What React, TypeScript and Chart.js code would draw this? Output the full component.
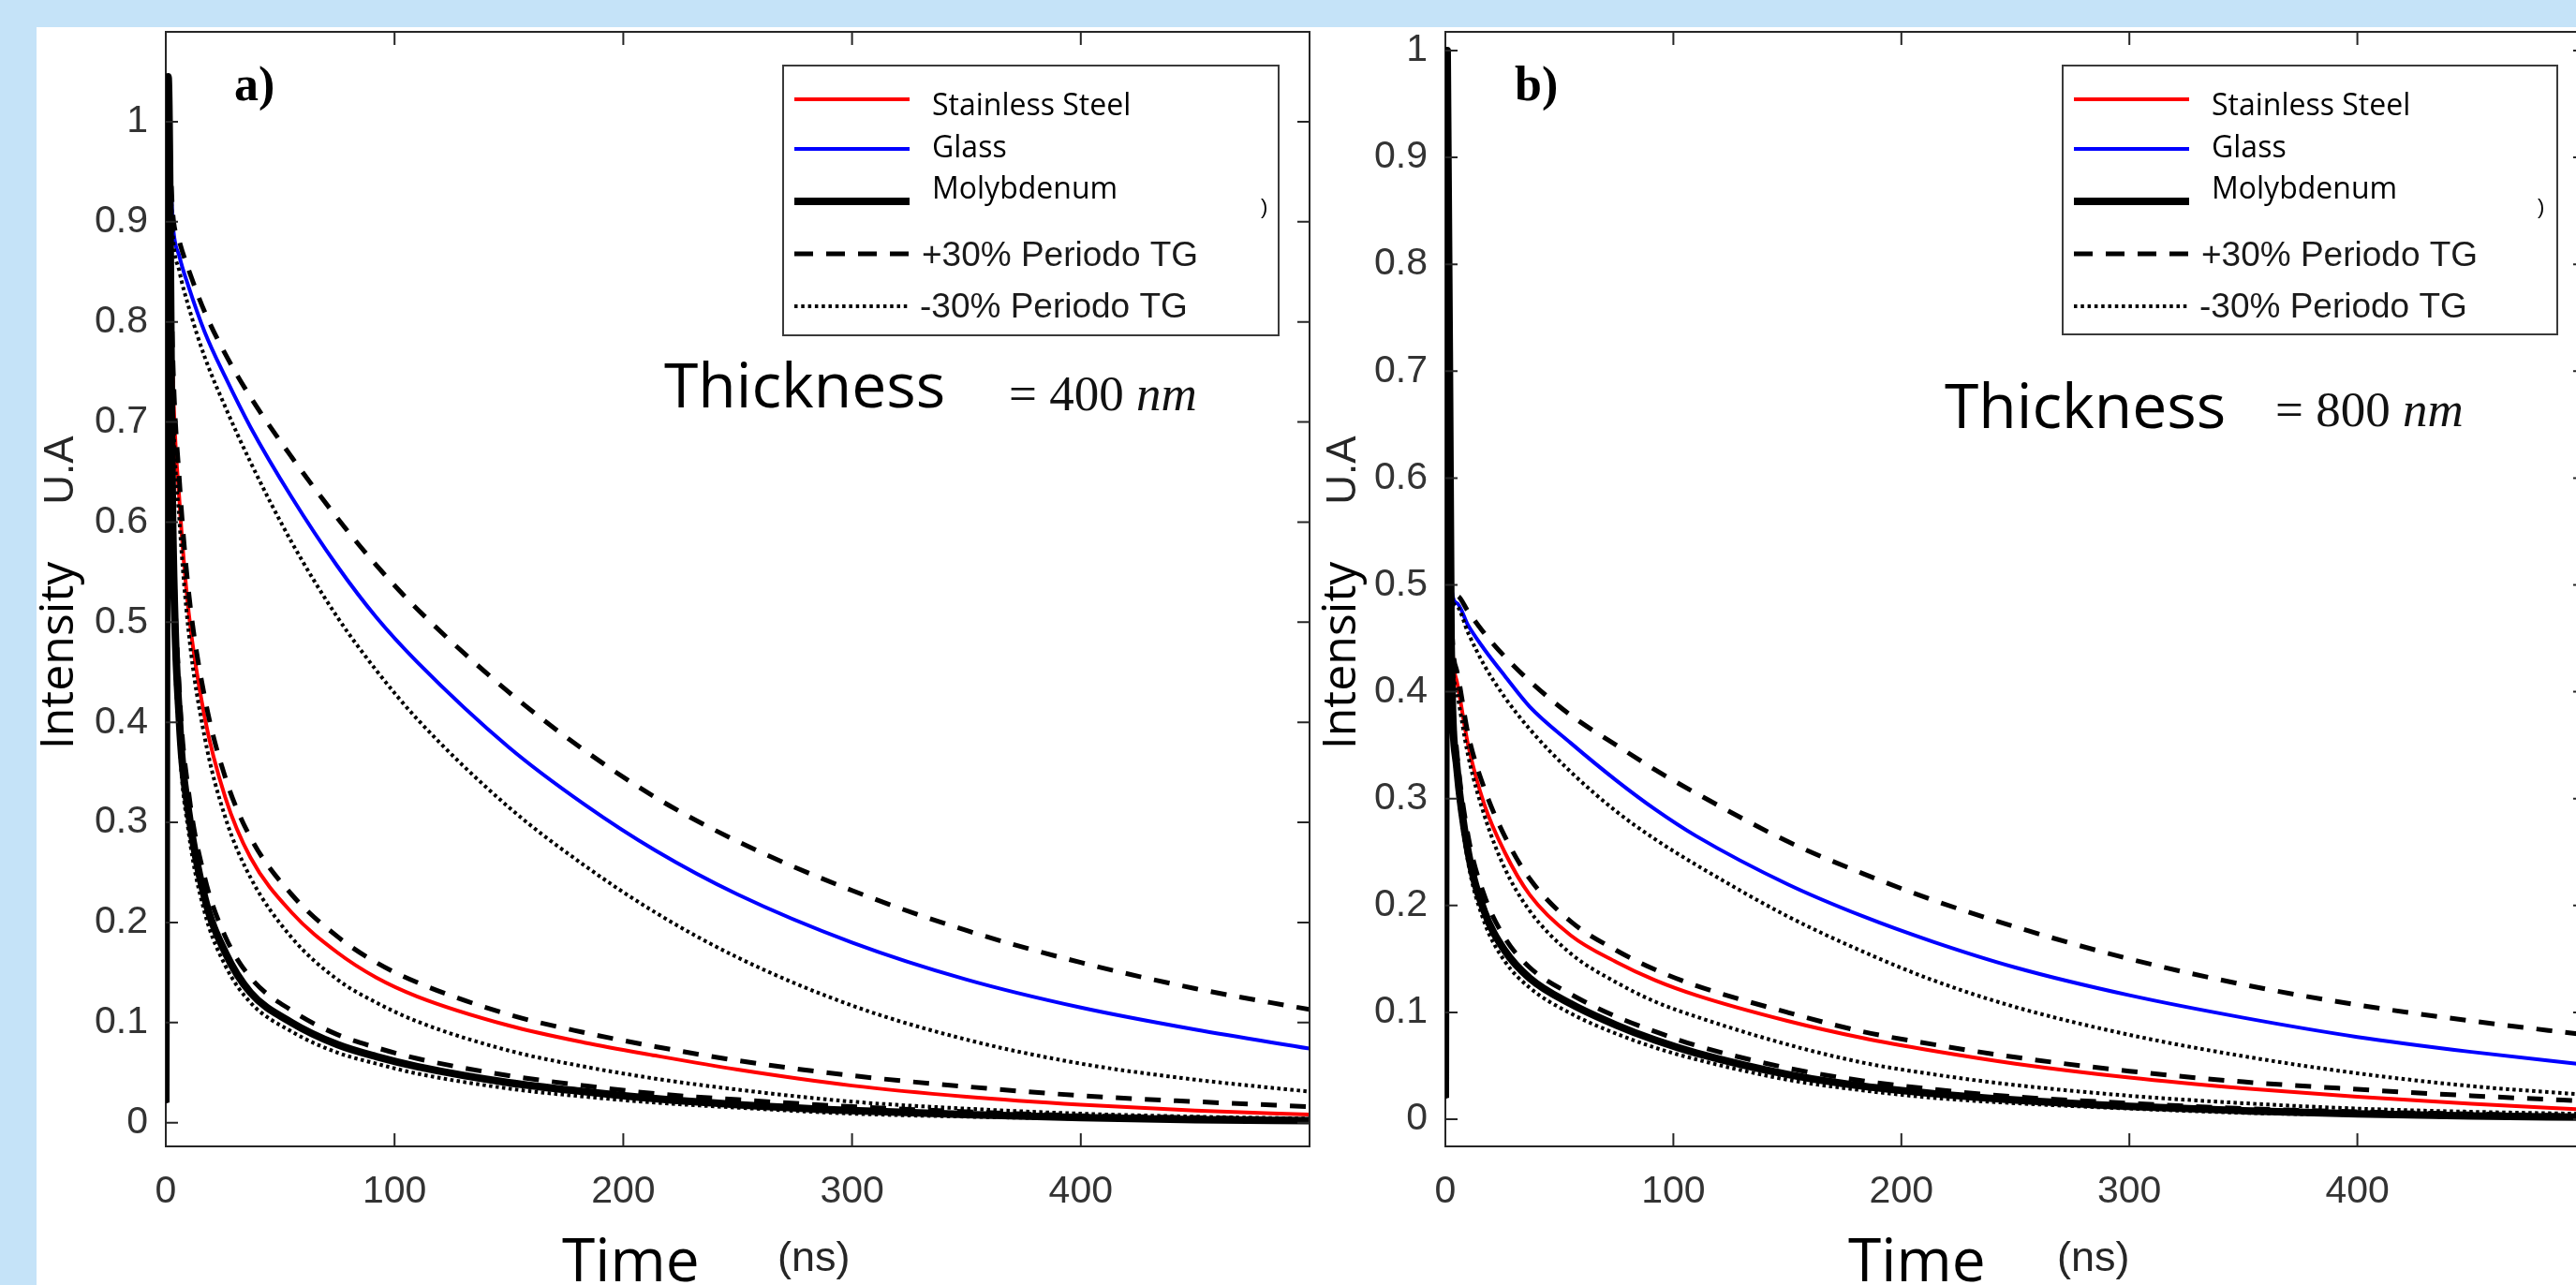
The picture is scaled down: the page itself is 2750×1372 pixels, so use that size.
import React, { useEffect, useRef } from 'react';
import { Chart, registerables } from 'chart.js';

Chart.register(...registerables);

// ---------------- data ----------------
const xTickValues = [0, 100, 200, 300, 400];
const xTickLabels = ['0', '100', '200', '300', '400'];
const yTickValues = [0, 0.1, 0.2, 0.3, 0.4, 0.5, 0.6, 0.7, 0.8, 0.9, 1];
const yTickLabels = ['0', '0.1', '0.2', '0.3', '0.4', '0.5', '0.6', '0.7', '0.8', '0.9', '1'];
const legendLabels = ['Stainless Steel', 'Glass', 'Molybdenum', '+30% Periodo TG', '-30% Periodo TG'];
const thicknessValues = ['400', '800'];
const panelLetters = ['a)', 'b)'];

// panel a) thickness 400 nm
const timeA = [0, 1, 3, 6, 10, 17, 26, 37, 55, 75, 92, 110, 150, 183, 214, 250, 300, 350, 400, 450, 500];
const moA = [0.02, 1.045, 0.6, 0.4, 0.31, 0.225, 0.17, 0.13, 0.1, 0.078, 0.066, 0.056, 0.04, 0.031, 0.024, 0.018, 0.012, 0.008, 0.005, 0.003, 0.002];
const moPlusA = [0.02, 1.045, 0.63, 0.43, 0.33, 0.245, 0.186, 0.145, 0.112, 0.088, 0.075, 0.064, 0.047, 0.037, 0.029, 0.023, 0.016, 0.011, 0.007, 0.005, 0.003];
const moMinusA = [0.02, 1.045, 0.57, 0.38, 0.29, 0.21, 0.157, 0.12, 0.091, 0.07, 0.059, 0.049, 0.034, 0.026, 0.02, 0.015, 0.009, 0.006, 0.004, 0.002, 0.001];
const ssA = [0.02, 1.0, 0.75, 0.62, 0.51, 0.405, 0.325, 0.265, 0.21, 0.17, 0.145, 0.126, 0.097, 0.08, 0.067, 0.053, 0.037, 0.026, 0.018, 0.012, 0.008];
const ssPlusA = [0.02, 1.0, 0.77, 0.64, 0.53, 0.425, 0.345, 0.285, 0.228, 0.186, 0.16, 0.14, 0.108, 0.09, 0.076, 0.062, 0.047, 0.036, 0.027, 0.021, 0.016];
const ssMinusA = [0.02, 1.0, 0.73, 0.6, 0.49, 0.385, 0.305, 0.245, 0.185, 0.143, 0.12, 0.101, 0.072, 0.056, 0.044, 0.033, 0.021, 0.014, 0.009, 0.006, 0.004];
const glassA = [0.02, 1.0, 0.9, 0.865, 0.835, 0.79, 0.745, 0.695, 0.625, 0.556, 0.505, 0.46, 0.375, 0.318, 0.272, 0.228, 0.18, 0.143, 0.115, 0.093, 0.074];
const glassPlusA = [0.02, 1.0, 0.91, 0.88, 0.852, 0.81, 0.768, 0.725, 0.665, 0.604, 0.557, 0.513, 0.43, 0.372, 0.325, 0.281, 0.232, 0.192, 0.16, 0.134, 0.113];
const glassMinusA = [0.02, 1.0, 0.89, 0.85, 0.815, 0.765, 0.715, 0.66, 0.58, 0.505, 0.452, 0.403, 0.315, 0.257, 0.21, 0.165, 0.117, 0.083, 0.059, 0.043, 0.031];

// panel b) thickness 800 nm
const timeB = [0, 0.8, 2.5, 5, 10, 17, 26, 37, 55, 75, 92, 110, 150, 183, 214, 250, 300, 350, 400, 450, 500];
const moB = [0.02, 1.0, 0.45, 0.33, 0.25, 0.195, 0.158, 0.132, 0.108, 0.088, 0.074, 0.062, 0.042, 0.031, 0.024, 0.018, 0.012, 0.008, 0.005, 0.003, 0.002];
const moPlusB = [0.02, 1.0, 0.46, 0.345, 0.265, 0.21, 0.17, 0.142, 0.117, 0.096, 0.082, 0.069, 0.048, 0.036, 0.028, 0.021, 0.015, 0.01, 0.007, 0.005, 0.003];
const moMinusB = [0.02, 1.0, 0.44, 0.32, 0.24, 0.185, 0.148, 0.123, 0.099, 0.08, 0.067, 0.056, 0.037, 0.027, 0.02, 0.015, 0.01, 0.006, 0.004, 0.002, 0.001];
const ssB = [0.02, 1.0, 0.48, 0.41, 0.35, 0.295, 0.25, 0.21, 0.172, 0.147, 0.13, 0.116, 0.092, 0.076, 0.064, 0.052, 0.039, 0.029, 0.021, 0.0145, 0.009];
const ssPlusB = [0.02, 1.0, 0.485, 0.42, 0.36, 0.31, 0.265, 0.225, 0.185, 0.158, 0.14, 0.125, 0.1, 0.082, 0.07, 0.058, 0.045, 0.035, 0.028, 0.022, 0.017];
const ssMinusB = [0.02, 1.0, 0.475, 0.4, 0.34, 0.285, 0.235, 0.195, 0.155, 0.128, 0.11, 0.096, 0.07, 0.053, 0.042, 0.032, 0.022, 0.015, 0.01, 0.007, 0.005];
const glassB = [0.02, 1.0, 0.5, 0.483, 0.462, 0.44, 0.415, 0.386, 0.352, 0.317, 0.29, 0.265, 0.22, 0.19, 0.166, 0.142, 0.116, 0.095, 0.077, 0.063, 0.051];
const glassPlusB = [0.02, 1.0, 0.5, 0.49, 0.475, 0.455, 0.433, 0.41, 0.378, 0.35, 0.327, 0.305, 0.26, 0.23, 0.205, 0.18, 0.15, 0.126, 0.107, 0.092, 0.079];
const glassMinusB = [0.02, 1.0, 0.5, 0.48, 0.455, 0.425, 0.395, 0.365, 0.325, 0.288, 0.262, 0.238, 0.19, 0.157, 0.13, 0.105, 0.079, 0.059, 0.043, 0.031, 0.023];

// ---------------- styles ----------------
const AXIS = '#262626';
const BG_BLUE = 'rgb(197,227,248)';
const RED = '#ff0000';
const BLUE = '#0000ff';
const BLACK = '#000000';
const DASH = [17, 14];
const DOT = [3.5, 3.5];

type Style = { color: string; width: number; dash: number[] };
const moStyle: Style = { color: BLACK, width: 8, dash: [] };
const plusStyle: Style = { color: BLACK, width: 5, dash: DASH };
const minusStyle: Style = { color: BLACK, width: 4, dash: DOT };
const ssStyle: Style = { color: RED, width: 4, dash: [] };
const glassStyle: Style = { color: BLUE, width: 4, dash: [] };

function makeDataset(label: string, times: number[], values: number[], st: Style) {
  return {
    label,
    data: times.map((x, i) => ({ x, y: values[i] })),
    borderColor: st.color,
    backgroundColor: st.color,
    borderWidth: st.width,
    borderDash: st.dash,
    borderJoinStyle: 'round',
    borderCapStyle: 'butt',
    pointRadius: 0,
    fill: false,
    tension: 0.4,
    cubicInterpolationMode: 'monotone',
  };
}

type TextPart = { s: string; font: string };
type TextItem = { parts: TextPart[]; x: number; y: number; color: string; rotate?: boolean };

interface PanelSpec {
  left: number; top: number; width: number; height: number;
  yAxisWidth: number; padRight: number; padTop: number; xAxisHeight: number;
  yMin: number; yMax: number; xMax: number;
  datasets: any[];
  legendX: number; legendY: number; legendW: number; legendH: number;
  texts: TextItem[];
}

const F_OPEN = '"Open Sans", sans-serif';
const F_ARIAL = '"Liberation Sans", Arial, sans-serif';
const F_SERIF = '"Liberation Serif", "Times New Roman", serif';

function panelTexts(idx: number, dx: number, thickX: number, thickY: number, eqX: number, eqY: number): TextItem[] {
  return [
    { parts: [{ s: panelLetters[idx], font: `bold 52px ${F_SERIF}` }], x: (idx === 0 ? 250 : 1617), y: 107, color: '#000' },
    { parts: [{ s: 'Thickness', font: `66px ${F_OPEN}` }], x: thickX, y: thickY, color: '#000' },
    { parts: [{ s: '= ' + thicknessValues[idx] + ' ', font: `53px ${F_SERIF}` }, { s: 'nm', font: `italic 53px ${F_SERIF}` }], x: eqX, y: eqY, color: '#111' },
    { parts: [{ s: 'Intensity', font: `50px ${F_OPEN}` }], x: 78 + dx, y: 700, color: '#000', rotate: true },
    { parts: [{ s: 'U.A', font: `44px ${F_ARIAL}` }], x: 78 + dx, y: 502, color: AXIS, rotate: true },
    { parts: [{ s: 'Time', font: `64px ${F_OPEN}` }], x: (idx === 0 ? 600 : 1973), y: 1368, color: '#000' },
    { parts: [{ s: '(ns)', font: `45px ${F_ARIAL}` }], x: (idx === 0 ? 830 : 2196), y: 1357, color: AXIS },
    { parts: [{ s: ')', font: `22px ${F_ARIAL}` }], x: (idx === 0 ? 1346 : 2709), y: 228, color: '#000' },
  ];
}

function buildDatasets(t: number[], mo: number[], moP: number[], moM: number[], ss: number[], ssP: number[], ssM: number[], gl: number[], glP: number[], glM: number[]) {
  // first dataset is drawn on top
  return [
    makeDataset(legendLabels[2], t, mo, moStyle),
    makeDataset(legendLabels[2] + ' +30%', t, moP, plusStyle),
    makeDataset(legendLabels[2] + ' -30%', t, moM, minusStyle),
    makeDataset(legendLabels[0] + ' +30%', t, ssP, plusStyle),
    makeDataset(legendLabels[0] + ' -30%', t, ssM, minusStyle),
    makeDataset(legendLabels[1] + ' +30%', t, glP, plusStyle),
    makeDataset(legendLabels[1] + ' -30%', t, glM, minusStyle),
    makeDataset(legendLabels[0], t, ss, ssStyle),
    makeDataset(legendLabels[1], t, gl, glassStyle),
  ];
}

const panelA: PanelSpec = {
  left: 0, top: -30, width: 1400, height: 1402,
  yAxisWidth: 177, padRight: 2, padTop: 64, xAxisHeight: 148,
  yMin: -0.0237, yMax: 1.0898, xMax: 500,
  datasets: buildDatasets(timeA, moA, moPlusA, moMinusA, ssA, ssPlusA, ssMinusA, glassA, glassPlusA, glassMinusA),
  legendX: 836, legendY: 70, legendW: 529, legendH: 288,
  texts: panelTexts(0, 0, 709, 435, 1077, 438),
};

const panelB: PanelSpec = {
  left: 1400, top: -30, width: 1370, height: 1402,
  yAxisWidth: 143, padRight: 10, padTop: 64, xAxisHeight: 148,
  yMin: -0.0254, yMax: 1.0175, xMax: 500,
  datasets: buildDatasets(timeB, moB, moPlusB, moMinusB, ssB, ssPlusB, ssMinusB, glassB, glassPlusB, glassMinusB),
  legendX: 2202, legendY: 70, legendW: 528, legendH: 287,
  texts: panelTexts(1, 1369, 2076, 457, 2429, 455),
};

function drawTextItem(ctx: CanvasRenderingContext2D, it: TextItem, ox: number, oy: number) {
  ctx.save();
  ctx.fillStyle = it.color;
  ctx.textBaseline = 'alphabetic';
  const x = it.x - ox;
  const y = it.y - oy;
  if (it.rotate) {
    ctx.translate(x, y);
    ctx.rotate(-Math.PI / 2);
    ctx.font = it.parts[0].font;
    ctx.textAlign = 'center';
    ctx.fillText(it.parts[0].s, 0, 0);
  } else {
    ctx.textAlign = 'left';
    let cx = x;
    for (const p of it.parts) {
      ctx.font = p.font;
      ctx.fillText(p.s, cx, y);
      cx += ctx.measureText(p.s).width;
    }
  }
  ctx.restore();
}

function drawLegend(ctx: CanvasRenderingContext2D, p: PanelSpec) {
  const bx = p.legendX - p.left;
  const by = p.legendY - p.top;
  ctx.save();
  ctx.fillStyle = '#ffffff';
  ctx.fillRect(bx, by, p.legendW, p.legendH);
  ctx.strokeStyle = '#3a3a3a';
  ctx.lineWidth = 2;
  ctx.strokeRect(bx, by, p.legendW, p.legendH);
  const styles = [ssStyle, glassStyle, moStyle, plusStyle, minusStyle];
  const lineY = [36, 89, 145, 201, 257];
  const textY = [53, 98, 142, 214, 269];
  const textX = [159, 159, 159, 148, 146];
  const fonts = [`32px ${F_OPEN}`, `32px ${F_OPEN}`, `32px ${F_OPEN}`, `37px ${F_ARIAL}`, `37px ${F_ARIAL}`];
  const dashes = [[], [], [], [20, 14], [3.5, 3.8]];
  for (let i = 0; i < 5; i++) {
    const st = styles[i];
    ctx.beginPath();
    ctx.strokeStyle = st.color;
    ctx.lineWidth = st.width;
    ctx.setLineDash(dashes[i]);
    ctx.moveTo(bx + 12, by + lineY[i]);
    ctx.lineTo(bx + 135, by + lineY[i]);
    ctx.stroke();
    ctx.setLineDash([]);
    ctx.fillStyle = i < 3 ? '#000' : '#1a1a1a';
    ctx.font = fonts[i];
    ctx.textAlign = 'left';
    ctx.textBaseline = 'alphabetic';
    ctx.fillText(legendLabels[i], bx + textX[i], by + textY[i]);
  }
  ctx.restore();
}

function makeOverlay(p: PanelSpec) {
  return {
    id: 'overlay',
    afterDatasetsDraw(chart: any) {
      const { ctx, chartArea: ca, scales } = chart;
      const TICK = 13;
      ctx.save();
      ctx.strokeStyle = AXIS;
      ctx.lineWidth = 2;
      ctx.setLineDash([]);
      ctx.beginPath();
      ctx.moveTo(ca.left, ca.top);
      ctx.lineTo(ca.right, ca.top);
      ctx.lineTo(ca.right, ca.bottom);
      for (const v of yTickValues) {
        const y = scales.y.getPixelForValue(v);
        ctx.moveTo(ca.left, y);
        ctx.lineTo(ca.left + TICK, y);
        ctx.moveTo(ca.right, y);
        ctx.lineTo(ca.right - TICK, y);
      }
      for (const v of xTickValues) {
        const x = scales.x.getPixelForValue(v);
        ctx.moveTo(x, ca.bottom);
        ctx.lineTo(x, ca.bottom - TICK - 1);
        ctx.moveTo(x, ca.top);
        ctx.lineTo(x, ca.top + TICK + 1);
      }
      ctx.stroke();
      ctx.restore();
    },
    afterDraw(chart: any) {
      const ctx = chart.ctx as CanvasRenderingContext2D;
      drawLegend(ctx, p);
      for (const it of p.texts) drawTextItem(ctx, it, p.left, p.top);
    },
  };
}

function Panel({ spec }: { spec: PanelSpec }) {
  const ref = useRef<HTMLCanvasElement>(null);
  useEffect(() => {
    let chart: Chart | null = null;
    let cancelled = false;
    const loads = [
      `32px "Open Sans"`, `37px "Liberation Sans"`, `50px "Liberation Serif"`,
      `italic 50px "Liberation Serif"`, `bold 52px "Liberation Serif"`,
    ].map((f) => (document as any).fonts.load(f));
    Promise.all(loads).catch(() => null).then(() => {
      if (cancelled || !ref.current) return;
      chart = new Chart(ref.current, {
        type: 'line',
        data: { datasets: spec.datasets },
        plugins: [makeOverlay(spec)],
        options: {
          animation: false,
          responsive: false,
          devicePixelRatio: 1,
          events: [],
          layout: { padding: { left: 0, right: spec.padRight, top: spec.padTop, bottom: 0 } },
          plugins: { legend: { display: false }, tooltip: { enabled: false }, title: { display: false } },
          scales: {
            x: {
              type: 'linear',
              min: 0,
              max: spec.xMax,
              grid: { display: false, drawTicks: false },
              border: { display: true, color: AXIS, width: 2 },
              afterBuildTicks: (scale: any) => { scale.ticks = xTickValues.map((v) => ({ value: v })); },
              afterFit: (scale: any) => { scale.height = spec.xAxisHeight; },
              ticks: {
                autoSkip: false,
                maxRotation: 0,
                padding: 24,
                color: '#333',
                font: { family: 'Liberation Sans', size: 41 },
                callback: (v: any) => {
                  const i = xTickValues.indexOf(Number(v));
                  return i >= 0 ? xTickLabels[i] : '';
                },
              },
            },
            y: {
              type: 'linear',
              min: spec.yMin,
              max: spec.yMax,
              grid: { display: false, drawTicks: false },
              border: { display: true, color: AXIS, width: 2 },
              afterBuildTicks: (scale: any) => { scale.ticks = yTickValues.map((v) => ({ value: v })); },
              afterFit: (scale: any) => { scale.width = spec.yAxisWidth; },
              ticks: {
                autoSkip: false,
                padding: 19,
                color: '#333',
                font: { family: 'Liberation Sans', size: 41 },
                callback: (v: any) => {
                  const i = yTickValues.findIndex((t) => Math.abs(t - Number(v)) < 1e-9);
                  return i >= 0 ? yTickLabels[i] : '';
                },
              },
            },
          },
        } as any,
      } as any);
    });
    return () => {
      cancelled = true;
      if (chart) chart.destroy();
    };
  }, [spec]);
  return (
    <canvas
      ref={ref}
      width={spec.width}
      height={spec.height}
      style={{ position: 'absolute', left: spec.left, top: spec.top, width: spec.width, height: spec.height }}
    />
  );
}

export default function App() {
  return (
    <div style={{ position: 'absolute', left: 0, top: 0, width: 2750, height: 1372, overflow: 'hidden', background: BG_BLUE }}>
      <div style={{ position: 'absolute', left: 39, top: 29, width: 2711, height: 1343, background: '#ffffff' }} />
      <Panel spec={panelA} />
      <Panel spec={panelB} />
    </div>
  );
}
